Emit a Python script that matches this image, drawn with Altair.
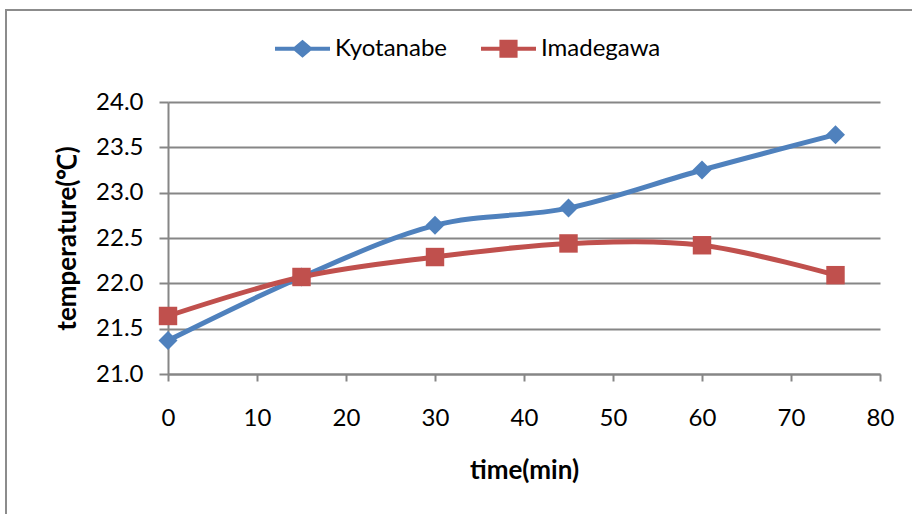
import altair as alt
import pandas as pd

time_min = [0, 15, 30, 45, 60, 75]
kyotanabe = [21.37, 22.07, 22.64, 22.83, 23.25, 23.64]
imadegawa = [21.64, 22.07, 22.29, 22.44, 22.42, 22.09]
series_names = ["Kyotanabe", "Imadegawa"]
series_colors = ["#4F81BD", "#C0504D"]
x_ticks = [0, 10, 20, 30, 40, 50, 60, 70, 80]
y_ticks = [21.0, 21.5, 22.0, 22.5, 23.0, 23.5, 24.0]

rows = []
for t, v in zip(time_min, kyotanabe):
    rows.append({"time": t, "temp": v, "series": "Kyotanabe"})
for t, v in zip(time_min, imadegawa):
    rows.append({"time": t, "temp": v, "series": "Imadegawa"})
df = pd.DataFrame(rows)

FONT = "Lato"
GRID = "#868686"
FS = 24
TFS = 26

# legend symbols: line + marker, unit coordinates
leg_diamond = "M-1,-0.07H-0.3L0,-0.33L0.3,-0.07H1V0.07H0.3L0,0.33L-0.3,0.07H-1Z"
leg_square = "M-1,-0.07H-0.33V-0.33H0.33V-0.07H1V0.07H0.33V0.33H-0.33V0.07H-1Z"

x = alt.X("time:Q",
          scale=alt.Scale(domain=[0, 80], nice=False),
          axis=alt.Axis(values=x_ticks, title="time(min)", grid=False,
                        domainColor=GRID, domainWidth=2, tickColor=GRID,
                        tickWidth=2, tickSize=7, labelPadding=37,
                        labelBaseline="middle", labelFlush=False, labelFont=FONT,
                        labelFontSize=FS, labelColor="black",
                        titleFont=FONT, titleFontSize=TFS, titleFontWeight="bold",
                        titleColor="black", titleY=96, titleBaseline="middle"))
y = alt.Y("temp:Q",
          scale=alt.Scale(domain=[21, 24], nice=False, zero=False),
          axis=alt.Axis(values=y_ticks, format=".1f", title="temperature(℃)",
                        grid=True, gridColor=GRID, gridWidth=2,
                        domainColor=GRID, domainWidth=2, tickColor=GRID,
                        tickWidth=2, tickSize=9, labelPadding=16, labelFlush=False,
                        labelFont=FONT, labelFontSize=FS, labelColor="black",
                        titleFont=FONT, titleFontSize=TFS, titleFontWeight="bold",
                        titleColor="black", titleX=-101, titleY=136,
                        titleBaseline="middle", titleAngle=270))

base = alt.Chart(df)

layers = []
for name, col in zip(series_names, series_colors):
    sub = base.transform_filter(alt.datum.series == name)
    layers.append(sub.mark_line(interpolate="cardinal", strokeWidth=5, color=col).encode(x=x, y=y))
for name, col, shp, sz in zip(series_names, series_colors, ["diamond", "square"], [361, 340]):
    sub = base.transform_filter(alt.datum.series == name)
    layers.append(sub.mark_point(shape=shp, filled=True, size=sz, opacity=1,
                                 strokeWidth=0, color=col).encode(x="time:Q", y="temp:Q"))

leg = alt.Legend(title=None, orient="none", direction="horizontal",
                 legendX=107, legendY=-81, padding=0,
                 symbolSize=3025, symbolStrokeWidth=0, symbolOpacity=1,
                 labelFont=FONT, labelFontSize=FS, labelColor="black",
                 labelOffset=5, columnPadding=33)

legend_layer = base.transform_filter(alt.datum.time < -1000).mark_point(
    filled=True).encode(
    x="time:Q", y="temp:Q",
    color=alt.Color("series:N",
                    scale=alt.Scale(domain=series_names, range=series_colors),
                    legend=leg),
    shape=alt.Shape("series:N",
                    scale=alt.Scale(domain=series_names, range=[leg_diamond, leg_square]),
                    legend=leg),
)

frame = alt.Chart(pd.DataFrame({"a": [0]})).mark_rect(
    fill=None, stroke="#8C8C8C", strokeWidth=2
).encode(x=alt.value(-162), y=alt.value(-92), x2=alt.value(1500), y2=alt.value(1500))

chart = alt.layer(frame, legend_layer, *layers).properties(
    width=712, height=272,
    autosize=alt.AutoSizeParams(type="none"),
    padding={"left": 168, "top": 102, "right": 32, "bottom": 140},
    background="white",
).configure_view(stroke=None)

chart.save("out.html", embed_options={"renderer": "svg", "actions": False})
